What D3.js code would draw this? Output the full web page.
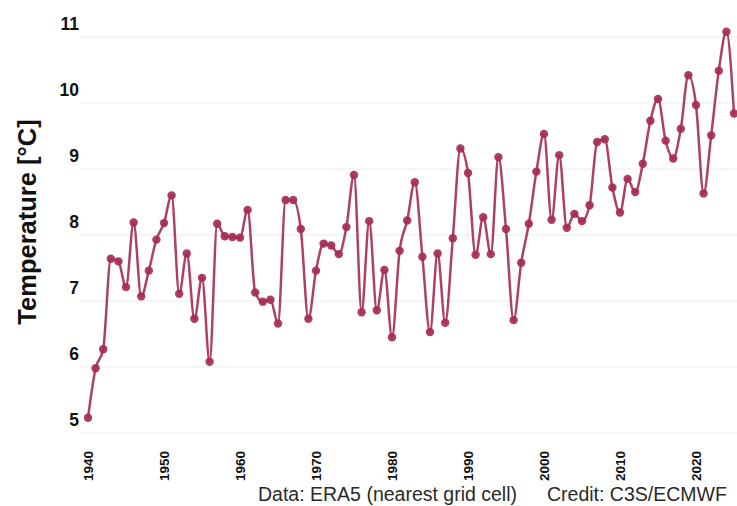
<!DOCTYPE html>
<html>
<head>
<meta charset="utf-8">
<script src="https://cdn.jsdelivr.net/npm/d3@7"></script>
<style>
    body { margin: 0; background: #fff; }
    svg { display: block; font-family: "Liberation Sans", Arial, sans-serif; }
</style>
</head>
<body>
<script>
// annual mean temperature, 1940-2025
var years = d3.range(1940, 2026);
var temps = [
    5.23, 5.98, 6.27, 7.64, 7.60, 7.21, 8.19, 7.07, 7.46, 7.93,
    8.18, 8.60, 7.11, 7.72, 6.73, 7.35, 6.08, 8.17, 7.98, 7.97,
    7.96, 8.38, 7.13, 6.99, 7.02, 6.66, 8.53, 8.53, 8.09, 6.73,
    7.46, 7.87, 7.84, 7.71, 8.12, 8.91, 6.83, 8.21, 6.86, 7.47,
    6.45, 7.76, 8.22, 8.80, 7.67, 6.53, 7.72, 6.67, 7.95, 9.31,
    8.94, 7.70, 8.27, 7.71, 9.18, 8.09, 6.71, 7.58, 8.17, 8.96,
    9.53, 8.23, 9.21, 8.11, 8.32, 8.21, 8.45, 9.41, 9.45, 8.72,
    8.34, 8.85, 8.65, 9.08, 9.73, 10.06, 9.43, 9.16, 9.61, 10.42,
    9.97, 8.63, 9.51, 10.49, 11.08, 9.84
];
var yTicks = [5, 6, 7, 8, 9, 10, 11];
var xTicks = [1940, 1950, 1960, 1970, 1980, 1990, 2000, 2010, 2020];

(function() {
    var width = 737, height = 506;
    var color = "#a52c52";

    var data = years.map((y, i) => ({ year: y, value: temps[i] }));

    var svg = d3.select("body")
        .append("svg")
        .attr("width", width)
        .attr("height", height);

    var x = d3.scaleLinear().domain([1940, 2025]).range([88, 734]);
    var y = d3.scaleLinear().domain([5, 11]).range([433, 37]);

    // horizontal grid
    svg.append("g")
        .selectAll("line")
        .data(yTicks)
        .enter()
        .append("line")
        .attr("x1", 80)
        .attr("x2", width)
        .attr("y1", d => y(d))
        .attr("y2", d => y(d))
        .attr("stroke", "#ebebeb")
        .attr("stroke-width", 1);

    // y tick labels sit a little above their grid line
    svg.append("g")
        .selectAll("text")
        .data(yTicks)
        .enter()
        .append("text")
        .attr("x", 79)
        .attr("y", d => y(d) - 13)
        .attr("dy", "0.35em")
        .attr("text-anchor", "end")
        .attr("font-size", 17.5)
        .attr("font-weight", "bold")
        .attr("fill", "#111")
        .text(d => d);

    svg.append("g")
        .selectAll("text")
        .data(xTicks)
        .enter()
        .append("text")
        .attr("transform", d => `translate(${x(d)},481) rotate(-90)`)
        .attr("dy", "0.35em")
        .attr("text-anchor", "start")
        .attr("font-size", 13.5)
        .attr("font-weight", "bold")
        .attr("fill", "#111")
        .text(d => d);

    svg.append("text")
        .attr("transform", "translate(27,222) rotate(-90)")
        .attr("dy", "0.35em")
        .attr("text-anchor", "middle")
        .attr("font-size", 25.5)
        .attr("font-weight", "bold")
        .attr("fill", "#111")
        .text("Temperature [°C]");

    var line = d3.line()
        .x(d => x(d.year))
        .y(d => y(d.value))
        .curve(d3.curveMonotoneX);

    svg.append("path")
        .datum(data)
        .attr("fill", "none")
        .attr("stroke", color)
        .attr("stroke-width", 2.5)
        .attr("stroke-opacity", 0.9)
        .attr("d", line);

    svg.append("g")
        .selectAll("circle")
        .data(data)
        .enter()
        .append("circle")
        .attr("cx", d => x(d.year))
        .attr("cy", d => y(d.value))
        .attr("r", 4.2)
        .attr("fill", color)
        .attr("fill-opacity", 0.92);

    // credits, lifted just enough to keep descenders inside the frame
    svg.append("text")
        .attr("x", 258)
        .attr("y", 501)
        .attr("font-size", 19.5)
        .attr("fill", "#2a2a2a")
        .text("Data: ERA5 (nearest grid cell)");

    svg.append("text")
        .attr("x", 547)
        .attr("y", 501)
        .attr("font-size", 19.5)
        .attr("fill", "#2a2a2a")
        .text("Credit: C3S/ECMWF");
})();
</script>
</body>
</html>
